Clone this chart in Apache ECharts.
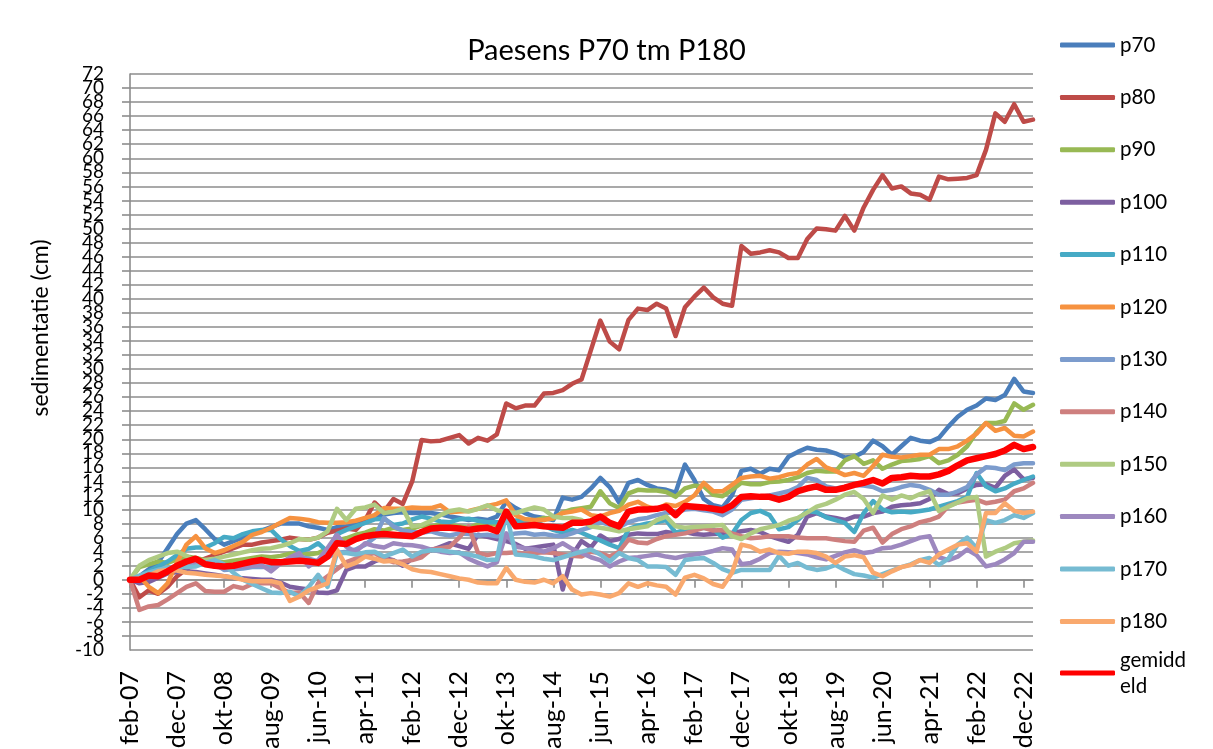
<!DOCTYPE html>
<html>
<head>
<meta charset="utf-8">
<title>Paesens P70 tm P180</title>
<script src="https://cdn.jsdelivr.net/npm/echarts@6/dist/echarts.min.js"></script>
<style>
  html, body { margin: 0; padding: 0; background: #fff; }
  #chart { width: 1213px; height: 749px; }
</style>
</head>
<body>
<div id="chart"></div>
<script>
// meetmomenten om de 2 maanden, feb-07 t/m feb-23
const maanden = ['jan', 'feb', 'mrt', 'apr', 'mei', 'jun', 'jul', 'aug', 'sep', 'okt', 'nov', 'dec'];
const categories = [];
for (let i = 0; i <= 96; i++) {
  const m = 1 + 2 * i;
  categories.push(maanden[m % 12] + '-' + String(7 + Math.floor(m / 12)).padStart(2, '0'));
}

// sedimentatie (cm) per paal
const p70 = [
  0, 0.5, 1.5, 2.5, 4.5, 6.5, 8, 8.5, 7.2, 5.8,
  5, 5.5, 6, 6.5, 7, 7.5, 8, 8, 8, 7.6,
  7.4, 7.1, 7.5, 7.6, 8, 8.5, 9, 9.3, 9.5, 9.6,
  9.5, 9.5, 9.5, 9.3, 9, 8.8, 8.5, 8.7, 8.5, 9,
  11.1, 10.2, 9.5, 9, 8.8, 8.5, 11.7, 11.4, 11.8, 13,
  14.5, 13.2, 11, 13.8, 14.2, 13.5, 13, 12.8, 12.4, 16.4,
  14.2, 11.5, 10.6, 10.3, 12, 15.5, 15.8, 15.1, 15.8, 15.6,
  17.5, 18.2, 18.8, 18.5, 18.4, 18, 17.4, 17.5, 18.2, 19.8,
  19, 17.8, 19, 20.2, 19.8, 19.6, 20.2, 21.8, 23.2, 24.2,
  24.8, 25.8, 25.6, 26.3, 28.6, 26.8, 26.6
];
const p80 = [
  0, -2.5, -1.5, -2, -1, 0.5, 1.5, 2.5, 3, 3.5,
  4, 4.5, 5, 5, 5.3, 5.5, 5.7, 6, 5.8, 5.7,
  6, 6.7, 7, 7.3, 7.1, 8.5, 11, 9.7, 11.5, 10.8,
  14, 19.9, 19.7, 19.8, 20.2, 20.6, 19.4, 20.2, 19.8, 20.7,
  25.1, 24.4, 24.8, 24.8, 26.5, 26.6, 27, 27.9, 28.5, 32.7,
  36.9, 33.9, 32.8, 37, 38.6, 38.4, 39.3, 38.6, 34.7, 38.8,
  40.3, 41.6, 40.2, 39.3, 39, 47.5, 46.4, 46.6, 46.9, 46.6,
  45.8, 45.8, 48.5, 50, 49.9, 49.7, 51.8, 49.7, 53, 55.5,
  57.6, 55.7, 56, 55, 54.8, 54.1, 57.4, 57, 57.1, 57.2,
  57.6, 61.2, 66.4, 65.2, 67.7, 65.2, 65.5
];
const p90 = [
  0, 1.8, 2.2, 2.6, 2.4, 2.9, 3.3, 3.1, 2.8, 2.6,
  2.5, 2.7, 2.9, 3.1, 3.3, 3.2, 3.4, 3.7, 3.9, 3.6,
  3.8, 4.4, 5.6, 5.9, 6.4, 6.7, 7.2, 7, 7.4, 7.1,
  7.3, 7.7, 7.6, 7.9, 7.8, 7.6, 7.4, 7.9, 8.1, 7.8,
  8.3, 8.4, 8.6, 8.4, 8.8, 8.7, 9.6, 10, 10.2, 10.4,
  12.6, 10.9, 10.2, 12.3, 12.8, 12.7, 12.7, 12.5, 11.8, 13,
  13.4, 13.3, 12.1, 11.9, 12.8, 13.8, 13.6, 13.6, 13.9, 14,
  14.2, 14.6, 15.2, 15.5, 15.4, 15.4, 17, 17.6, 16.5, 17,
  15.8, 16.4, 16.9, 17, 17.2, 17.6, 16.6, 17, 17.8, 19,
  21, 22.3, 22.3, 22.6, 25.1, 24.2, 24.9
];
const p100 = [
  0, -0.5, -0.3, 0.3, 0.9, 1.1, 1.2, 1.1, 0.9, 0.7,
  0.5, 0.3, 0.2, 0.1, 0, 0, -0.4, -1, -1.2, -1.4,
  -1.8, -1.9, -1.5, 1.4, 1.9, 1.9, 2.6, 3.1, 2.8, 2,
  3, 3.6, 4.2, 4.7, 5.2, 4.8, 4.4, 6.4, 6.1, 5.8,
  5.5, 5.1, 4.4, 4.6, 4.8, 5, -1.4, 3.5, 5.5, 4.6,
  6.3, 5.5, 5.8, 6.4, 6.6, 6.5, 6.5, 6.8, 6.6, 6.8,
  6.5, 6.4, 6.5, 6.6, 6.6, 6.9, 7.1, 6.8, 6.2, 5.8,
  5.4, 6.4, 9, 9.5, 9, 8.8, 8.5, 9, 9, 9.5,
  9.7, 10.4, 10.6, 10.7, 10.9, 11.5, 12.8, 12.2, 12.3, 13,
  13.5, 13.6, 13.1, 14.8, 15.7, 14.3, 14.5
];
const p110 = [
  0, 0.5, 1.2, 1.9, 2.6, 3.5, 4.4, 4.6, 4.6, 5.2,
  6.1, 5.9, 6.5, 6.9, 7.1, 7.1, 5.8, 4.8, 4.1, 4.4,
  5.2, 4, 6.5, 7.1, 7.6, 8.1, 8.6, 8.7, 7.8, 8,
  8.6, 9, 8.7, 8.3, 8.2, 8.6, 8.7, 8.4, 8.2, 8.2,
  8.1, 8.4, 8.4, 8.3, 7.7, 7.1, 6.7, 7.1, 6.7, 6.1,
  5.6, 5, 4.5, 7.2, 7.7, 8, 8.2, 8.5, 6.7, 7.1,
  7.2, 7.4, 7.2, 6, 6.5, 8.5, 9.5, 9.8, 9.2, 7.2,
  7.5, 8.5, 9.8, 9.6, 8.9, 8.5, 8.1, 6.8, 9.5, 11.2,
  10, 9.6, 9.7, 9.6, 9.8, 10, 10.4, 10.8, 11.2, 11.8,
  15.2, 13.3, 12.6, 13, 13.7, 14.2, 14.7
];
const p120 = [
  0, 0.5, -1, -1.9, -0.5, 2.5, 5, 6.2, 4.5, 3.8,
  4.2, 4.8, 5.4, 6.4, 6.8, 7.4, 8.1, 8.8, 8.7, 8.5,
  8.2, 8.1, 8.1, 8.2, 8.4, 8.8, 9.2, 10.2, 10.1, 10.1,
  10.3, 10.2, 10.2, 10.6, 9.6, 9.7, 9.8, 10.1, 10.5, 10.8,
  11.3, 9.2, 8.6, 8.5, 8.5, 8.8, 9.5, 9.7, 10, 9.2,
  9, 9.5, 9.8, 10.7, 11.1, 10.4, 10, 10.7, 10.5, 11.1,
  12, 13.8, 12.6, 12.6, 13.5, 14.5, 14.7, 14.8, 14.4, 14.6,
  15, 15.2, 16.4, 17.2, 16, 15.5, 14.9, 15.2, 14.8, 16.2,
  17.8, 17.5, 17.4, 17.6, 17.8, 17.8, 18.6, 18.6, 19, 19.8,
  20.8, 22.3, 21.2, 21.6, 20.5, 20.4, 21.1
];
const p130 = [
  0, 0.5, 1, 1.4, 1.6, 1.8, 1.9, 2.2, 2.8, 2.3,
  1.4, 1.5, 1.6, 1.8, 1.8, 1.9, 2.5, 3, 3.3, 3,
  2.6, 3.2, 3.8, 4, 4.3, 5, 6, 8.8, 7.6, 7,
  6.8, 6.7, 6.9, 6.5, 6.3, 6.6, 6.5, 6.3, 6.4, 6.2,
  6.3, 6.6, 6.7, 6.4, 6.5, 6.3, 6.2, 6.6, 7.1, 7.5,
  8.2, 7.8, 7.5, 8.2, 8.6, 8.8, 9.2, 9.5, 9.6, 10,
  10.1, 9.9, 9.7, 9.2, 10, 11.4, 11.6, 11.8, 12, 12.3,
  12.6, 13.2, 14.5, 14.2, 13.3, 13, 13.2, 13.5, 13.4, 13.2,
  12.6, 12.8, 13.2, 13.5, 13.3, 12.8, 12.1, 12.1, 12.6, 13.2,
  15, 16, 15.9, 15.6, 16.4, 16.6, 16.6
];
const p140 = [
  0, -4.3, -3.8, -3.6, -2.8, -1.9, -1, -0.5, -1.6, -1.7,
  -1.7, -0.9, -1.2, -0.6, -0.5, -0.5, -1.2, -1.9, -1.8, -3.3,
  -0.5, 0.5, 1.5, 2.5, 3, 3.5, 3.8, 3, 2.5, 2.6,
  2.8, 3.2, 4.3, 4.5, 4.7, 6, 7.6, 3.8, 3.5, 3.8,
  3.8, 3.9, 3.7, 3.8, 3.9, 3.8, 3.6, 3.4, 3.3, 4,
  3.8, 3.3, 4, 5.7, 5.3, 5.2, 5.8, 6.2, 6.4, 6.6,
  7, 7.4, 7, 7.1, 6.6, 6.2, 5.9, 6, 6.2, 6.2,
  6.2, 6, 5.9, 5.9, 5.9, 5.7, 5.5, 5.4, 7, 7.4,
  5.3, 6.5, 7.2, 7.6, 8.2, 8.5, 9, 10.5, 11, 11.2,
  11.4, 10.9, 11.1, 11.4, 12.6, 13, 13.8
];
const p150 = [
  0, 2, 2.8, 3.3, 3.8, 4, 3.4, 2.6, 2.8, 3,
  3.3, 3.6, 3.9, 4.2, 4.4, 4.5, 4.8, 5.2, 5.8, 5.7,
  6, 6.9, 10.1, 8.5, 10.1, 10.3, 10.7, 9.5, 9.7, 10.1,
  7.6, 7.8, 8.4, 9.2, 9.8, 10, 9.7, 10.1, 10.6, 9.9,
  9.6, 9.5, 9.9, 10.3, 10, 9, 8.8, 8.8, 8.5, 7.6,
  7.4, 7.2, 6.9, 7.2, 7.4, 7.6, 8.5, 9, 7.6, 7.4,
  7.5, 7.6, 7.7, 7.8, 6.2, 5.8, 6.6, 7.2, 7.5, 7.8,
  8.4, 8.8, 9.6, 10.4, 10.8, 11.4, 12.1, 12.5, 11.5, 9.5,
  12, 11.4, 12, 11.6, 12.2, 12.6, 9.8, 10.4, 11, 11.6,
  11.8, 3.3, 4, 4.5, 5.2, 5.4, 5.6
];
const p160 = [
  0, 0.3, 0.8, 1.2, 1.6, 1.9, 2.2, 2.4, 2.2, 1.9,
  1.7, 1.8, 1.9, 2, 2.1, 1.2, 2.3, 3.2, 3.8, 1.9,
  2.8, 4.5, 6.4, 4.7, 4, 5.2, 4.8, 4.6, 5.2, 5,
  4.9, 4.7, 4.3, 4, 3.8, 3.9, 3, 2.4, 1.9, 2.5,
  6.6, 4.7, 4.5, 4.3, 4, 4.5, 5.2, 4.4, 3.8, 3.2,
  2.8, 1.9, 2.6, 3.1, 3.2, 3.4, 3.6, 3.3, 3.1, 3.4,
  3.6, 3.8, 4.1, 4.5, 4.3, 2.2, 2.4, 3, 3.8, 4,
  3.9, 3.8, 3.6, 3.2, 2.9, 3.4, 3.9, 4.2, 3.8, 4,
  4.5, 4.6, 5, 5.5, 6, 6.2, 3.2, 2.8, 3.3, 4.3,
  3.5, 1.9, 2.2, 2.9, 3.8, 5.4, 5.4
];
const p170 = [
  0, 0.6, 1, 1.4, 1.7, 1.9, 1.8, 1.9, 2.4, 2.8,
  2.2, 1, 0, -0.6, -1.2, -1.8, -1.9, -1.7, -2.4, -1,
  0.7, -1, 3.8, 3.8, 3.6, 3.9, 4, 3.3, 3.8, 4.3,
  3.3, 4, 4.2, 4.2, 4, 3.8, 3.6, 3.3, 2.8, 2.9,
  9.5, 3.6, 3.5, 3.3, 3, 2.8, 3.2, 3.6, 4, 4.3,
  3.6, 2.6, 3.8, 3.1, 2.8, 1.9, 1.9, 1.8, 0.7, 2.8,
  3, 3.1, 2.4, 1.5, 1, 1.4, 1.4, 1.4, 1.4, 3.4,
  2, 2.4, 1.7, 1.4, 1.6, 2.1, 1.4, 0.8, 0.6, 0.3,
  0.8, 1.3, 1.8, 2.2, 2.8, 3.1, 2.1, 3, 5, 6,
  4.5, 8.5, 8.1, 8.5, 9.2, 8.8, 9.5
];
const p180 = [
  0, 0.2, 0.6, 1.2, 1.4, 1.3, 1, 0.9, 0.7, 0.6,
  0.5, 0.3, 0, -0.2, -0.2, -0.2, -0.5, -3, -2.4, -1.5,
  -1, -0.5, 4.3, 1.9, 2.4, 3.3, 3, 2.6, 2.7, 2.2,
  1.5, 1.2, 1.1, 0.8, 0.5, 0.2, 0, -0.4, -0.5, -0.5,
  1.7, 0, -0.3, -0.4, 0, -0.5, 0.5, -1.4, -2.1, -1.9,
  -2.1, -2.4, -1.9, -0.5, -1, -0.5, -0.8, -1, -2.1, 0.3,
  0.7, 0.2, -0.6, -1, 1, 5, 4.7, 4, 4.3, 3.8,
  3.7, 4, 4, 3.8, 3.3, 2.4, 3.3, 3.5, 3.2, 1,
  0.5, 1.2, 1.8, 2.1, 2.8, 2.4, 3.6, 4.3, 5, 5.2,
  4, 9.5, 9.5, 10.9, 9.8, 9.5, 9.7
];
const gemiddeld = [
  0, 0, 0.6, 0.5, 1.2, 2, 2.6, 3, 2.2, 2,
  1.9, 2, 2.3, 2.6, 2.8, 2.5, 2.5, 2.6, 2.7, 2.6,
  2.4, 3.3, 5.2, 5.1, 5.8, 6.2, 6.4, 6.5, 6.4, 6.3,
  6.2, 6.8, 7.3, 7.4, 7.4, 7.3, 7.1, 7.3, 7.4, 6.9,
  9.7, 7.6, 7.7, 7.8, 7.6, 7.5, 7.4, 8.1, 8.1, 8.3,
  9, 8.1, 7.6, 9.7, 10, 10, 10.1, 10.4, 9.2, 10.5,
  10.4, 10.3, 10.1, 9.9, 10.6, 11.8, 11.9, 11.8, 11.8, 11.4,
  11.8, 12.6, 13, 13.3, 12.8, 12.8, 13.1, 13.5, 13.8, 14.2,
  13.7, 14.5, 14.6, 14.8, 14.7, 14.7, 15, 15.5, 16.3, 17,
  17.3, 17.6, 17.9, 18.4, 19.2, 18.6, 18.9
];

const seriesNames = ['p70', 'p80', 'p90', 'p100', 'p110', 'p120', 'p130', 'p140', 'p150', 'p160', 'p170', 'p180', 'gemiddeld'];
const seriesValues = [p70, p80, p90, p100, p110, p120, p130, p140, p150, p160, p170, p180, gemiddeld];
const colors = ['#4A7EBB', '#BE4B48', '#98B954', '#7D5FA0', '#46AAC5', '#F69240',
                '#7C9CCD', '#CE7F7E', '#AFCB82', '#9D88BF', '#76BBD2', '#F9A96E', '#FF0000'];

const yMin = -10;
const yMax = 72;
const font = 'Lato, "Open Sans", sans-serif';
const gridColor = '#8C8C8C';
const yLabelStyle = { fontFamily: font, fontSize: 19, color: '#000', margin: 26 };

const chart = echarts.init(document.getElementById('chart'));
chart.setOption({
  animation: false,
  backgroundColor: '#fff',
  color: colors,
  title: {
    text: 'Paesens P70 tm P180',
    left: 'center',
    top: 31,
    textStyle: { fontFamily: font, fontSize: 29, fontWeight: 'normal', color: '#000' }
  },
  legend: [
    {
      orient: 'vertical', left: 1060, top: 32, padding: 0,
      itemWidth: 55, itemHeight: 5, itemGap: 26.4, icon: 'roundRect',
      data: seriesNames.slice(0, 12),
      textStyle: { fontFamily: font, fontSize: 20.5, lineHeight: 26, color: '#000' }
    },
    {
      // laatste item loopt over twee regels
      orient: 'vertical', left: 1060, top: 634, padding: 0,
      itemWidth: 55, itemHeight: 5, icon: 'roundRect',
      data: ['gemiddeld'],
      formatter: () => 'gemidd\neld',
      textStyle: { fontFamily: font, fontSize: 20.5, lineHeight: 26, color: '#000', padding: [26, 0, 0, 0] }
    }
  ],
  grid: { left: 130, right: 180, top: 74, bottom: 99, containLabel: false, outerBoundsMode: 'none' },
  xAxis: [
    {
      type: 'category', data: categories, boundaryGap: false,
      axisLine: { onZero: true, lineStyle: { color: gridColor, width: 1.6 } },
      axisTick: { interval: 4, length: 8, lineStyle: { color: gridColor, width: 1.6 } },
      axisLabel: { show: false },
      splitLine: { show: false }
    },
    {
      type: 'category', data: categories, boundaryGap: false, position: 'bottom',
      axisLine: { show: false, onZero: false },
      axisTick: { show: false },
      axisLabel: { interval: 4, rotate: 90, margin: 21, fontFamily: font, fontSize: 25, color: '#000' },
      splitLine: { show: false }
    }
  ],
  yAxis: [
    {
      type: 'value', min: yMin, max: yMax, interval: 2, position: 'left',
      name: 'sedimentatie (cm)', nameLocation: 'middle', nameGap: 78,
      nameTextStyle: { fontFamily: font, fontSize: 23, color: '#000', padding: [0, 0, 0, 68] },
      axisLine: { show: true, lineStyle: { color: gridColor, width: 1.6 } },
      axisTick: { show: true, length: 8, lineStyle: { color: gridColor, width: 1.6 } },
      axisLabel: Object.assign({ showMinLabel: false, showMaxLabel: false }, yLabelStyle),
      splitLine: { lineStyle: { color: gridColor, width: 1.6 } }
    },
    {
      // alleen de buitenste labels (-10 en 72), die anders wegvallen
      type: 'value', min: yMin, max: yMax, interval: 2, position: 'left',
      axisLine: { show: false }, axisTick: { show: false }, splitLine: { show: false },
      axisLabel: Object.assign({
        showMinLabel: true, showMaxLabel: true,
        formatter: (v) => (v === yMin || v === yMax) ? String(v) : ''
      }, yLabelStyle)
    }
  ],
  series: seriesNames.map((name, i) => ({
    name: name,
    type: 'line',
    xAxisIndex: 0,
    yAxisIndex: 0,
    data: seriesValues[i],
    symbol: 'none',
    showSymbol: false,
    lineStyle: { width: name === 'gemiddeld' ? 6.5 : 4.5, color: colors[i], cap: 'round', join: 'round' },
    itemStyle: { color: colors[i] },
    emphasis: { disabled: true }
  }))
});
</script>
</body>
</html>
